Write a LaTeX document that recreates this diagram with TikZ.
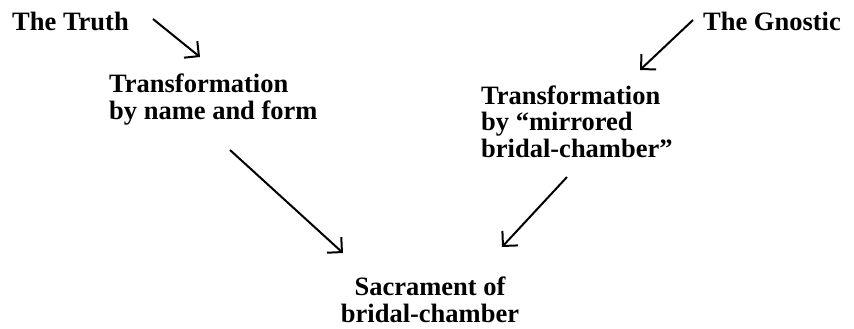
\documentclass[tikz,border=0pt]{standalone}
\usepackage{fontspec}
\setmainfont{Liberation Serif}
\usetikzlibrary{arrows.meta}
\tikzset{
  lbl/.style={inner sep=0pt, font=\bfseries\fontsize{26.5}{26.5}\selectfont, text=black},
  conn/.style={line width=2pt, -{Straight Barb[angle=90:15pt, line width=2pt]}}
}
\begin{document}
\begin{tikzpicture}[x=1pt,y=-1pt]
\useasboundingbox (0,0) rectangle (854,329);
\node[lbl, anchor=base west] (truth) at (12,31) {The Truth};
\node[lbl, anchor=base east] (gnostic) at (841,31) {The Gnostic};
\node[lbl, anchor=base west, align=left] (tleft) at (109,119) {Transformation\\by name and form};
\node[lbl, anchor=base west, align=left] (tright) at (481,157) {Transformation\\by ``mirrored\\bridal-chamber''};
\node[lbl, anchor=base, align=center] (sac) at (430,322) {Sacrament of\\bridal-chamber};
% connector ends
\coordinate (a1s) at (153,19);  \coordinate (a1e) at (200,57);
\coordinate (a2s) at (230,150); \coordinate (a2e) at (343,253);
\coordinate (a3s) at (693,20);  \coordinate (a3e) at (640,70);
\coordinate (a4s) at (567,177); \coordinate (a4e) at (502,247);
\draw[conn] (a1s) -- (a1e);
\draw[conn] (a2s) -- (a2e);
\draw[conn] (a3s) -- (a3e);
\draw[conn] (a4s) -- (a4e);
\end{tikzpicture}
\end{document}
